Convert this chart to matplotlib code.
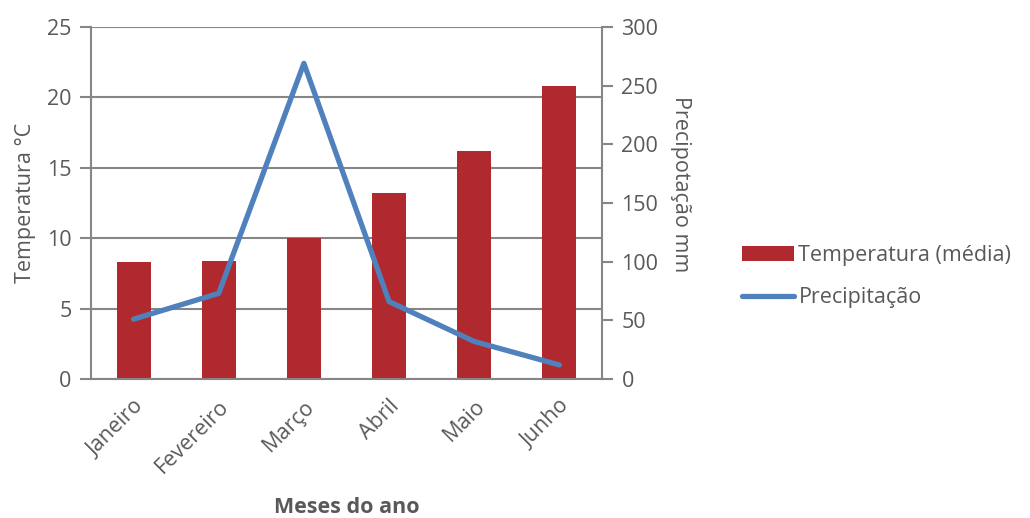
import matplotlib.pyplot as plt
import numpy as np

plt.rcParams['font.family'] = ['Open Sans', 'DejaVu Sans']

meses = ["Janeiro", "Fevereiro", "Março", "Abril", "Maio", "Junho"]
temperatura = [8.3, 8.4, 10.0, 13.2, 16.2, 20.8]
precipitacao = [51, 73, 269, 66, 32, 12]

cinza = "#868686"
texto = "#595959"
tam = 15.5

fig = plt.figure(figsize=(10.30, 5.18), dpi=100)
ax = fig.add_axes([0.0883, 0.2683, 0.4962, 0.6796])
x = np.arange(len(meses))

barras = ax.bar(x, temperatura, width=0.4, color="#B0292F", zorder=2,
                label="Temperatura (média)")
ax.set_xlim(-0.5, len(meses) - 0.5)
ax.set_ylim(0, 25)
ax.set_yticks(range(0, 26, 5))
ax.grid(axis="y", color=cinza, linewidth=1.5, zorder=0)
ax.set_axisbelow(True)
ax.set_xticks(x)
ax.set_xticklabels(meses, rotation=45, ha="right", rotation_mode="anchor",
                   fontsize=tam, color=texto)
ax.tick_params(axis="x", length=0, pad=12)
ax.tick_params(axis="y", length=8, width=1.5, color=cinza, labelsize=tam,
               labelcolor=texto, pad=6)
for lado in ["top", "right"]:
    ax.spines[lado].set_visible(False)
for lado in ["left", "bottom"]:
    ax.spines[lado].set_color(cinza)
    ax.spines[lado].set_linewidth(1.5)
ax.set_ylabel("Temperatura °C", fontsize=tam, color=texto, labelpad=8)
ax.set_xlabel("Meses do ano", fontsize=tam, color=texto, fontweight="bold")
ax.xaxis.set_label_coords(0.5, -0.335)

ax2 = ax.twinx()
linha, = ax2.plot(x, precipitacao, color="#4F81BD", linewidth=3.8,
                  solid_capstyle="round", label="Precipitação", zorder=3)
ax2.set_ylim(0, 300)
ax2.set_yticks(range(0, 301, 50))
ax2.tick_params(axis="y", length=8, width=1.5, color=cinza, labelsize=tam,
                labelcolor=texto, pad=6)
for lado in ["top", "left", "bottom"]:
    ax2.spines[lado].set_visible(False)
ax2.spines["right"].set_color(cinza)
ax2.spines["right"].set_linewidth(1.5)
ax2.set_ylabel("Precipotação mm", fontsize=tam, color=texto, rotation=270)
ax2.yaxis.set_label_coords(1.175, 0.554)

fig.legend([barras, linha], ["Temperatura (média)", "Precipitação"],
           loc="center left", bbox_to_anchor=(0.702, 0.466), frameon=False,
           fontsize=tam, labelcolor=texto, handlelength=2.4, handletextpad=0.2,
           labelspacing=1.0)

fig.savefig("out.png", dpi=100)
